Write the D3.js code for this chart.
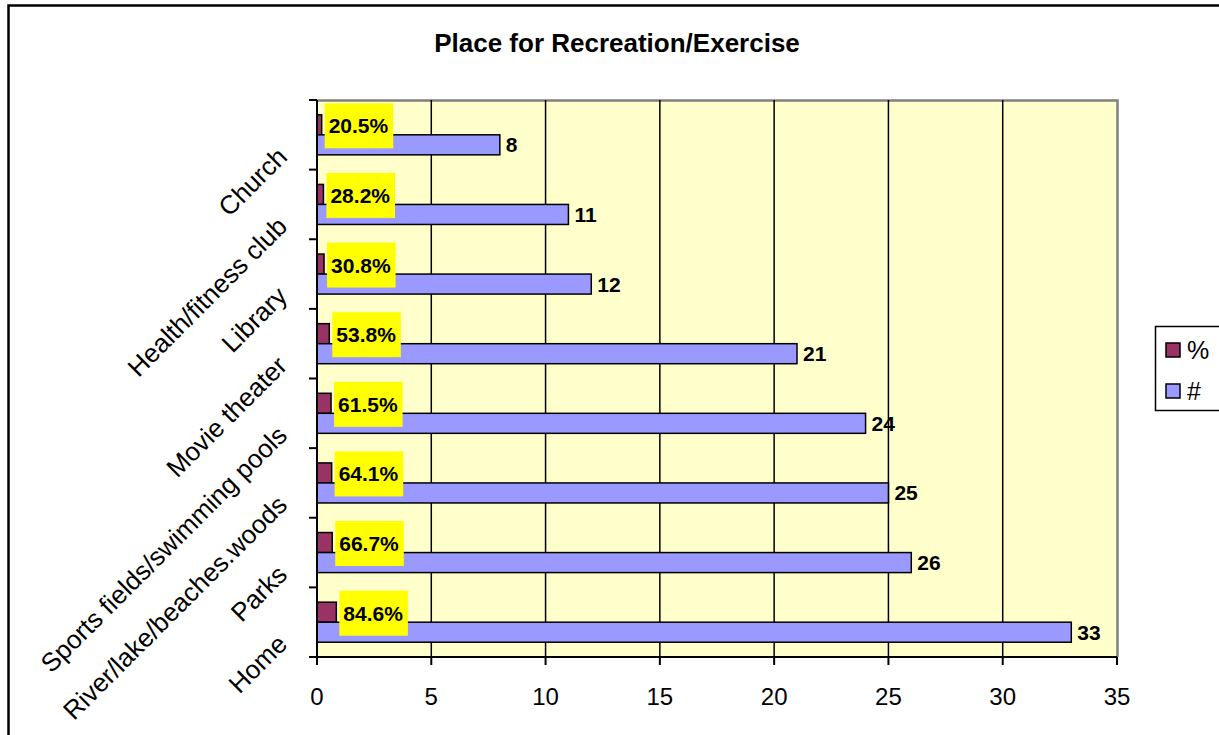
<!DOCTYPE html>
<html>
<head>
<meta charset="utf-8">
<script src="https://cdn.jsdelivr.net/npm/d3@7"></script>
<style>
  body { margin: 0; background: #fff; }
  text { font-family: "Liberation Sans", Arial, sans-serif; }
</style>
</head>
<body>
<svg class="chart"></svg>
<script>
// data, top to bottom
var categories = ['Church','Health/fitness club','Library','Movie theater',
                  'Sports fields/swimming pools','River/lake/beaches.woods','Parks','Home'];
var counts = [8, 11, 12, 21, 24, 25, 26, 33];
var shares = [0.205, 0.282, 0.308, 0.538, 0.615, 0.641, 0.667, 0.846];
var seriesNames = ['%', '#'];
var xTicks = [0, 5, 10, 15, 20, 25, 30, 35];

var svgwidth = 1219;
var svgheight = 735;

var plot = { left: 317, right: 1117, top: 100, bottom: 657 };

var svg = d3.select('.chart').attr('width', svgwidth).attr('height', svgheight);

// outer chart border
svg.append('rect')
   .attr('x', 8.5).attr('y', 5.5)
   .attr('width', svgwidth + 20).attr('height', svgheight + 20)
   .attr('fill', 'white')
   .attr('stroke', 'black')
   .attr('stroke-width', 2.5);

var xscale = d3.scaleLinear().domain([0, 35]).range([plot.left, plot.right]);
var yscale = d3.scaleBand().domain(categories).range([plot.top, plot.bottom])
               .paddingInner(0.425).paddingOuter(0.2125);
var subscale = d3.scaleBand().domain(seriesNames).range([0, yscale.bandwidth()]);

var colors = { '%': '#993366', '#': '#9999FF' };

// plot area
svg.append('rect')
   .attr('x', plot.left).attr('y', plot.top)
   .attr('width', plot.right - plot.left).attr('height', plot.bottom - plot.top)
   .attr('fill', '#FFFFCC');

svg.append('path')
   .attr('d', 'M' + plot.left + ',' + (plot.top + 0.5) + 'H' + (plot.right + 0.5) + 'V' + plot.bottom)
   .attr('fill', 'none')
   .attr('stroke', '#808080')
   .attr('stroke-width', 2.5);

// gridlines
svg.append('g').selectAll('line').data(xTicks.slice(1, -1)).enter().append('line')
   .attr('x1', function(d){ return xscale(d); })
   .attr('x2', function(d){ return xscale(d); })
   .attr('y1', plot.top).attr('y2', plot.bottom)
   .attr('stroke', 'black').attr('stroke-width', 1.5);

// bars
var rows = categories.map(function(c, i){
  return { cat: c, count: counts[i], share: shares[i] };
});

var groups = svg.append('g').selectAll('g').data(rows).enter().append('g')
   .attr('transform', function(d){ return 'translate(0,' + yscale(d.cat) + ')'; });

groups.append('rect')
   .attr('x', xscale(0))
   .attr('y', subscale('%'))
   .attr('width', function(d){ return xscale(d.share) - xscale(0); })
   .attr('height', subscale.bandwidth())
   .attr('fill', colors['%'])
   .attr('stroke', 'black').attr('stroke-width', 1.5);

groups.append('rect')
   .attr('x', xscale(0))
   .attr('y', subscale('#'))
   .attr('width', function(d){ return xscale(d.count) - xscale(0); })
   .attr('height', subscale.bandwidth())
   .attr('fill', colors['#'])
   .attr('stroke', 'black').attr('stroke-width', 1.5);

// count labels
groups.append('text')
   .attr('x', function(d){ return xscale(d.count) + 6; })
   .attr('y', subscale('#') + subscale.bandwidth() / 2)
   .attr('dy', '0.36em')
   .style('font-size', '21px').style('font-weight', 'bold')
   .text(function(d){ return d.count; });

// percent labels in yellow boxes
var fmt = d3.format('.1%');
groups.each(function(d){
  var g = d3.select(this);
  var cy = subscale('%') + subscale.bandwidth() / 2 + 1;
  var bx = xscale(d.share) + 3;
  var box = g.append('rect').attr('fill', '#FFFF00');
  var t = g.append('text')
     .attr('x', bx + 4)
     .attr('y', cy)
     .attr('dy', '0.36em')
     .style('font-size', '21px').style('font-weight', 'bold')
     .text(fmt(d.share));
  var w = t.node().getComputedTextLength();
  box.attr('x', bx).attr('y', cy - 22.5).attr('width', w + 9).attr('height', 45);
});

// axes lines
svg.append('line')
   .attr('x1', plot.left).attr('x2', plot.left)
   .attr('y1', plot.top).attr('y2', plot.bottom)
   .attr('stroke', 'black').attr('stroke-width', 2);
svg.append('line')
   .attr('x1', plot.left - 8).attr('x2', plot.right)
   .attr('y1', plot.bottom).attr('y2', plot.bottom)
   .attr('stroke', 'black').attr('stroke-width', 2);

// y ticks at band edges
var edges = categories.map(function(c){ return yscale(c) - yscale.step() * yscale.paddingInner() / 2; });
svg.append('g').selectAll('line').data(edges).enter().append('line')
   .attr('x1', plot.left - 8).attr('x2', plot.left)
   .attr('y1', function(d){ return d; }).attr('y2', function(d){ return d; })
   .attr('stroke', 'black').attr('stroke-width', 2);

// x ticks
svg.append('g').selectAll('line').data(xTicks).enter().append('line')
   .attr('x1', function(d){ return xscale(d); })
   .attr('x2', function(d){ return xscale(d); })
   .attr('y1', plot.bottom).attr('y2', plot.bottom + 8)
   .attr('stroke', 'black').attr('stroke-width', 2);

svg.append('g').selectAll('text').data(xTicks).enter().append('text')
   .attr('x', function(d){ return xscale(d); })
   .attr('y', 705)
   .attr('text-anchor', 'middle')
   .style('font-size', '24px')
   .text(function(d){ return d; });

// category labels rotated
svg.append('g').selectAll('text').data(categories).enter().append('text')
   .attr('transform', function(d){
     return 'translate(' + (plot.left - 35) + ',' + (yscale(d) + yscale.bandwidth() / 2 + 17) + ') rotate(-45)';
   })
   .attr('text-anchor', 'end')
   .attr('dy', '0.36em')
   .style('font-size', '26px')
   .text(function(d){ return d; });

// title
svg.append('text')
   .attr('x', 617).attr('y', 52)
   .attr('text-anchor', 'middle')
   .style('font-size', '26px').style('font-weight', 'bold')
   .text('Place for Recreation/Exercise');

// legend
var legend = svg.append('g');
legend.append('rect')
   .attr('x', 1155.5).attr('y', 326.5)
   .attr('width', 70).attr('height', 84)
   .attr('fill', 'white').attr('stroke', 'black').attr('stroke-width', 1.5);

var legendY = d3.scalePoint().domain(seriesNames).range([350, 391]);
legend.selectAll('.lsq').data(seriesNames).enter().append('rect')
   .attr('x', 1166).attr('y', function(d){ return legendY(d) - 7; })
   .attr('width', 14).attr('height', 14)
   .attr('fill', function(d){ return colors[d]; })
   .attr('stroke', 'black').attr('stroke-width', 1.5);
legend.selectAll('.ltx').data(seriesNames).enter().append('text')
   .attr('x', 1187).attr('y', function(d){ return legendY(d); })
   .attr('dy', '0.36em')
   .style('font-size', '25px')
   .text(function(d){ return d; });
</script>
</body>
</html>
